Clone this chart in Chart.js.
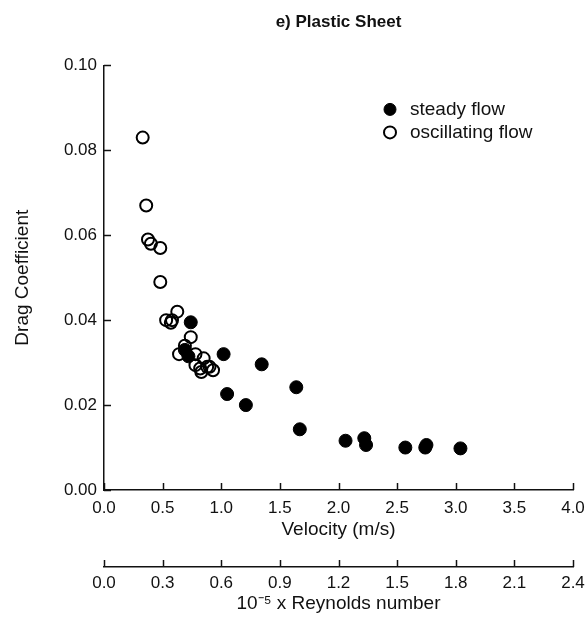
<!DOCTYPE html>
<html>
<head>
<meta charset="utf-8">
<script src="https://cdn.jsdelivr.net/npm/chart.js@4.4.1/dist/chart.umd.min.js"></script>
<style>
  html, body { margin: 0; padding: 0; background: #fff; }
  #wrap { width: 587px; height: 620px; }
</style>
</head>
<body>
<div id="wrap"><canvas id="dragChart"></canvas></div>
<script>
// steady flow (filled circles): velocity m/s, drag coefficient
const steadyVel = [0.74, 0.69, 0.72, 1.02, 1.05, 1.21, 1.345, 1.64, 1.67, 2.06, 2.22, 2.235, 2.57, 2.74, 2.75, 3.04];
const steadyCd  = [0.0395, 0.0330, 0.0315, 0.0320, 0.0226, 0.0200, 0.0296, 0.0242, 0.0143, 0.0116, 0.0122, 0.0106, 0.0100, 0.0100, 0.0106, 0.0098];

// oscillating flow (open circles)
const oscVel = [0.33, 0.36, 0.375, 0.40, 0.48, 0.48, 0.53, 0.57, 0.58, 0.625, 0.74, 0.69, 0.64, 0.78, 0.85, 0.78, 0.82, 0.83, 0.88, 0.93, 0.90];
const oscCd  = [0.083, 0.067, 0.059, 0.058, 0.057, 0.049, 0.040, 0.0394, 0.040, 0.042, 0.036, 0.034, 0.032, 0.032, 0.031, 0.0294, 0.0286, 0.0278, 0.029, 0.0282, 0.029];

const seriesNames = ['steady flow', 'oscillating flow'];
const velTicks = { min: 0, max: 4, step: 0.5 };
const reTicks = { min: 0, max: 2.4, step: 0.3 };
const cdTicks = { min: 0, max: 0.1, step: 0.02 };

const FONT = 'Liberation Sans, Arial, Helvetica, sans-serif';
const INK = '#111';

function toPoints(xs, ys) {
  return xs.map((x, i) => ({ x: x, y: ys[i] }));
}

// ticks drawn pointing into the plot, like the original figure
const inwardTicks = {
  id: 'inwardTicks',
  afterDraw(chart) {
    const ctx = chart.ctx;
    const len = 7;
    ctx.save();
    ctx.strokeStyle = INK;
    ctx.lineWidth = 1.5;
    ['x', 'x2'].forEach(id => {
      const s = chart.scales[id];
      const y0 = s.top;
      s.ticks.forEach(t => {
        const px = Math.round(s.getPixelForValue(t.value)) + 0.5;
        ctx.beginPath();
        ctx.moveTo(px, y0);
        ctx.lineTo(px, y0 - len);
        ctx.stroke();
      });
    });
    const ys = chart.scales.y;
    ys.ticks.forEach(t => {
      const py = Math.round(ys.getPixelForValue(t.value)) + 0.5;
      ctx.beginPath();
      ctx.moveTo(ys.right, py);
      ctx.lineTo(ys.right + len, py);
      ctx.stroke();
    });
    ctx.restore();
  }
};

// legend sitting inside the plot, top right
const innerLegend = {
  id: 'innerLegend',
  afterDraw(chart) {
    const ctx = chart.ctx;
    const area = chart.chartArea;
    const x = area.right - 183;
    let y = area.top + 44;
    ctx.save();
    ctx.font = '19px ' + FONT;
    ctx.textBaseline = 'middle';
    chart.data.datasets.forEach(ds => {
      ctx.beginPath();
      ctx.arc(x, y, 6, 0, Math.PI * 2);
      ctx.fillStyle = ds.backgroundColor;
      ctx.fill();
      ctx.lineWidth = ds.borderWidth;
      ctx.strokeStyle = ds.borderColor;
      ctx.stroke();
      ctx.fillStyle = INK;
      ctx.fillText(ds.label, x + 20, y);
      y += 23;
    });
    ctx.restore();
  }
};

const ctx = document.getElementById('dragChart').getContext('2d');
new Chart(ctx, {
  type: 'scatter',
  data: {
    datasets: [
      {
        label: seriesNames[0],
        data: toPoints(steadyVel, steadyCd),
        backgroundColor: '#000',
        borderColor: '#000',
        borderWidth: 1,
        pointRadius: 6.5,
        xAxisID: 'x'
      },
      {
        label: seriesNames[1],
        data: toPoints(oscVel, oscCd),
        backgroundColor: 'rgba(0,0,0,0)',
        borderColor: '#000',
        borderWidth: 2,
        pointRadius: 6,
        xAxisID: 'x'
      }
    ]
  },
  options: {
    responsive: true,
    maintainAspectRatio: false,
    animation: false,
    layout: { padding: { left: 0, right: 14, top: 0, bottom: 0 } },
    plugins: {
      legend: { display: false },
      tooltip: { enabled: false },
      title: {
        display: true,
        text: 'e) Plastic Sheet',
        fullSize: false,
        color: INK,
        font: { family: FONT, size: 17, weight: 'bold' },
        padding: { top: 12, bottom: 33 }
      }
    },
    scales: {
      x: {
        type: 'linear',
        position: 'bottom',
        min: velTicks.min,
        max: velTicks.max,
        grid: { display: false, drawTicks: false },
        border: { display: true, color: INK, width: 1.5 },
        ticks: {
          stepSize: velTicks.step,
          padding: 8,
          color: INK,
          font: { family: FONT, size: 17 },
          maxRotation: 0,
          callback: v => v.toFixed(1)
        },
        title: {
          display: true,
          text: 'Velocity (m/s)',
          color: INK,
          font: { family: FONT, size: 19 },
          padding: { top: 0, bottom: 26 }
        },
        afterFit: s => { s.height = 77; s.paddingLeft = 0; s.paddingRight = 0; }
      },
      x2: {
        type: 'linear',
        position: 'bottom',
        min: reTicks.min,
        max: reTicks.max,
        grid: { display: false, drawTicks: false },
        border: { display: true, color: INK, width: 1.5 },
        ticks: {
          stepSize: reTicks.step,
          padding: 6,
          color: INK,
          font: { family: FONT, size: 17 },
          maxRotation: 0,
          callback: v => v.toFixed(1)
        },
        title: {
          display: true,
          text: '10\u207B\u2075 x Reynolds number',
          color: INK,
          font: { family: FONT, size: 19 },
          padding: { top: 0, bottom: 5 }
        },
        afterFit: s => { s.height = 53; s.paddingLeft = 0; s.paddingRight = 0; }
      },
      y: {
        type: 'linear',
        min: cdTicks.min,
        max: cdTicks.max,
        grid: { display: false, drawTicks: false },
        border: { display: true, color: INK, width: 1.5 },
        ticks: {
          stepSize: cdTicks.step,
          padding: 7,
          color: INK,
          font: { family: FONT, size: 17 },
          callback: v => v.toFixed(2)
        },
        title: {
          display: true,
          text: 'Drag Coefficient',
          color: INK,
          font: { family: FONT, size: 19 },
          padding: { top: 11, bottom: 0 }
        },
        afterFit: s => { s.width = 104; }
      }
    }
  },
  plugins: [inwardTicks, innerLegend]
});
</script>
</body>
</html>
